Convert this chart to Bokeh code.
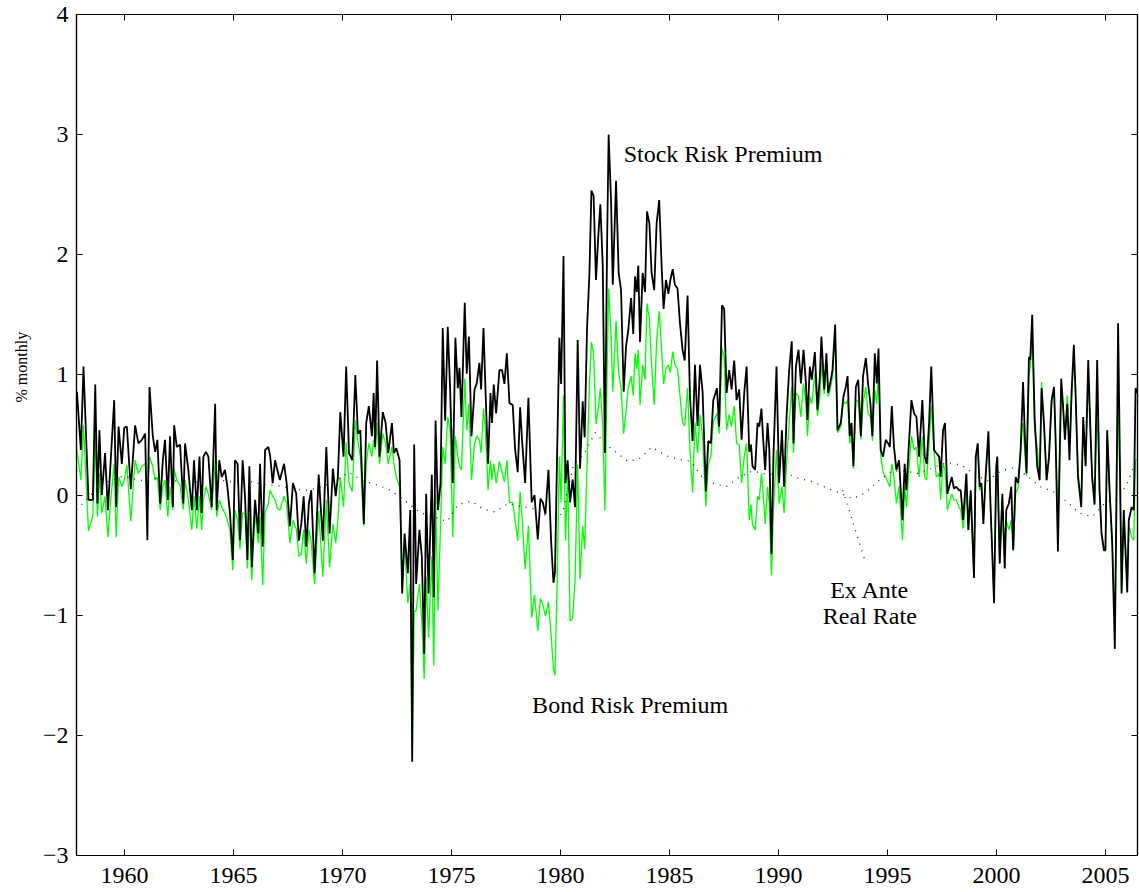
import math
from bokeh.plotting import figure
from bokeh.models import FixedTicker, LinearAxis, Label, Title
from bokeh.embed import file_html
from bokeh.resources import INLINE

# ---------------- data ----------------
x_ticks = [1960, 1965, 1970, 1975, 1980, 1985, 1990, 1995, 2000, 2005]
y_ticks = [-3, -2, -1, 0, 1, 2, 3, 4]

years_a = [1957.82, 1958.00, 1958.12, 1958.35, 1958.55, 1958.66, 1958.76, 1958.85, 1958.96, 1959.11,
           1959.24, 1959.37, 1959.53, 1959.62, 1959.73, 1959.88, 1959.99, 1960.11, 1960.29, 1960.49,
           1960.64, 1960.80, 1960.95, 1961.05, 1961.15, 1961.30, 1961.41, 1961.51, 1961.64, 1961.76,
           1961.86, 1961.99, 1962.09, 1962.22, 1962.28, 1962.40, 1962.55, 1962.70, 1962.78, 1962.93,
           1963.09, 1963.19, 1963.32, 1963.44, 1963.54, 1963.62, 1963.74, 1963.85, 1964.00, 1964.16,
           1964.23, 1964.35, 1964.46, 1964.61, 1964.72, 1964.84, 1964.97, 1965.07, 1965.19, 1965.30,
           1965.42, 1965.53, 1965.64, 1965.73, 1965.84, 1965.99, 1966.14, 1966.22, 1966.34, 1966.45,
           1966.60, 1966.68, 1966.80, 1966.91, 1967.01, 1967.13, 1967.32, 1967.44, 1967.59]
stock_a = [0.86, 0.375, 1.07, -0.04, -0.04, 0.92, -0.07, 0.54, 0.00, 0.35,
           -0.125, 0.29, 0.79, -0.10, 0.57, 0.26, 0.56, 0.57, 0.05, 0.58,
           0.43, 0.46, 0.51, -0.375, 0.90, 0.49, 0.36, 0.46, -0.07, 0.29,
           0.46, -0.04, 0.49, -0.10, 0.58, 0.40, 0.42, -0.07, 0.43, 0.21,
           -0.125, 0.29, -0.125, 0.32, -0.15, 0.32, 0.36, 0.32, -0.10, 0.76,
           -0.125, 0.29, 0.15, 0.21, 0.07, -0.15, -0.54, 0.29, 0.26, -0.375,
           0.29, -0.01, -0.54, 0.24, -0.60, -0.04, -0.32, 0.26, -0.43, 0.375,
           0.40, 0.33, 0.10, 0.29, 0.21, 0.125, 0.26, 0.10, -0.26]
bond_a = [0.375, 0.125, 0.58, -0.30, -0.17, 0.49, -0.18, 0.18, -0.15, -0.01,
          -0.35, -0.04, 0.26, -0.35, 0.15, 0.07, 0.125, 0.25, -0.22, 0.29,
          0.18, 0.24, 0.26, 0.01, 0.32, 0.24, 0.125, 0.15, -0.125, 0.07,
          0.125, -0.18, 0.07, -0.125, 0.21, 0.125, 0.08, -0.12, 0.125, -0.04,
          -0.29, -0.01, -0.28, -0.01, -0.29, -0.04, 0.07, 0.01, -0.125, 0.29,
          -0.18, -0.04, -0.10, -0.15, -0.21, -0.29, -0.625, -0.125, -0.21, -0.45,
          -0.15, -0.15, -0.61, -0.15, -0.71, -0.15, -0.40, -0.18, -0.75, -0.15,
          -0.07, 0.04, -0.01, -0.04, -0.11, -0.125, -0.01, -0.07, -0.40]

years_b = [1967.73, 1967.88, 1968.00, 1968.11, 1968.22, 1968.34, 1968.46, 1968.57, 1968.72, 1968.91,
           1969.10, 1969.26, 1969.41, 1969.56, 1969.69, 1969.79, 1969.90, 1970.05, 1970.17, 1970.30,
           1970.45, 1970.59, 1970.71, 1970.82, 1970.98, 1971.09, 1971.21, 1971.35, 1971.43, 1971.50,
           1971.59, 1971.70, 1971.85, 1971.98, 1972.10, 1972.27, 1972.36, 1972.47, 1972.62, 1972.74,
           1972.85, 1973.00, 1973.11, 1973.20, 1973.29, 1973.38, 1973.53, 1973.64, 1973.75, 1973.84,
           1973.95, 1974.10, 1974.19, 1974.27, 1974.38, 1974.50, 1974.60, 1974.71, 1974.83, 1974.94,
           1975.06, 1975.18, 1975.29, 1975.37, 1975.46, 1975.61, 1975.70, 1975.80, 1975.92, 1976.06,
           1976.16, 1976.28, 1976.36, 1976.47, 1976.56, 1976.68, 1976.79, 1976.86, 1976.94, 1977.05,
           1977.20]
stock_b = [0.10, 0.01, -0.38, -0.24, -0.01, -0.43, -0.07, 0.04, -0.65, 0.17,
           -0.38, 0.40, -0.32, 0.22, -0.01, 0.15, 0.69, 0.32, 1.07, 0.35,
           0.29, 1.00, 0.51, 0.54, -0.24, 0.60, 0.74, 0.49, 0.85, 0.40,
           1.12, 0.32, 0.69, 0.60, 0.35, 0.60, 0.35, 0.39, 0.29, -0.82,
           -0.32, -0.65, -0.125, -2.22, 0.42, -0.74, -0.29, -0.51, -1.32, 0.01,
           -0.82, 0.17, -0.85, 0.62, -0.125, 0.10, 1.39, 0.62, 1.40, 0.88,
           0.10, 1.31, 0.89, 1.06, 0.65, 1.60, 1.01, 1.32, 0.49, 0.88,
           0.93, 1.10, 0.88, 1.39, 0.88, 0.26, 0.85, 0.60, 0.92, 0.68,
           1.04]
bond_b = [-0.21, -0.28, -0.51, -0.49, -0.29, -0.57, -0.29, -0.40, -0.74, -0.13,
          -0.68, -0.04, -0.60, -0.24, -0.40, -0.21, 0.15, -0.10, 0.44, 0.10,
          0.03, 0.62, 0.45, 0.32, -0.26, 0.26, 0.43, 0.32, 0.46, 0.38,
          0.60, 0.26, 0.51, 0.43, 0.26, 0.40, 0.26, 0.15, 0.07, -0.79,
          -0.38, -0.90, -0.74, -2.15, -0.97, -0.96, -0.74, -1.04, -1.53, -0.68,
          -1.19, -0.51, -1.42, 0.0, -0.96, -0.24, 0.40, 0.26, 0.65, 0.54,
          -0.35, 0.49, 0.32, 0.24, 0.21, 0.97, 0.54, 0.76, 0.125, 0.43,
          0.49, 0.46, 0.35, 0.72, 0.54, 0.04, 0.29, 0.125, 0.26, 0.10,
          0.28]

years_c = [1977.32, 1977.43, 1977.54, 1977.66, 1977.81, 1977.92, 1978.04, 1978.15, 1978.24, 1978.38,
           1978.53, 1978.68, 1978.81, 1978.96, 1979.08, 1979.19, 1979.31, 1979.45, 1979.57, 1979.68,
           1979.75, 1979.85, 1979.95, 1980.03, 1980.14, 1980.23, 1980.33, 1980.44, 1980.56, 1980.67,
           1980.79, 1980.90, 1981.02, 1981.11, 1981.22, 1981.33, 1981.42, 1981.52, 1981.63, 1981.74,
           1981.83, 1981.94, 1982.04, 1982.14, 1982.21, 1982.32, 1982.40, 1982.55, 1982.67, 1982.78,
           1982.90, 1983.01, 1983.11, 1983.24, 1983.34, 1983.42, 1983.50, 1983.57, 1983.65, 1983.77,
           1983.88, 1983.97, 1984.08, 1984.18, 1984.30, 1984.41, 1984.53, 1984.64, 1984.73, 1984.84,
           1984.95, 1985.04, 1985.15, 1985.25, 1985.37, 1985.48, 1985.60, 1985.70, 1985.83, 1985.94,
           1986.06, 1986.17, 1986.29, 1986.40, 1986.52, 1986.67, 1986.78]
stock_c = [1.04, 0.925, 1.18, 0.765, 0.75, 0.38, 0.19, 0.73, 0.45, 0.10,
           0.81, -0.06, 0.00, -0.37, -0.03, -0.06, -0.16, 0.21, -0.38, -0.73,
           -0.64, 0.38, 1.31, 0.925, 1.99, 0.10, 0.29, -0.06, 0.13, -0.10,
           1.29, 0.22, 0.78, 0.48, 1.39, 1.85, 2.535, 2.49, 1.79, 2.17,
           2.42, 1.91, 0.35, 2.10, 3.00, 2.455, 1.75, 2.615, 1.85, 1.705,
           0.86, 1.24, 1.37, 1.64, 1.34, 1.82, 1.69, 1.91, 1.275, 1.85,
           1.69, 2.36, 2.26, 1.85, 1.705, 2.26, 2.455, 1.91, 1.55, 1.79,
           1.675, 1.79, 1.88, 1.75, 1.72, 1.435, 1.21, 1.12, 1.66, 0.83,
           0.45, 1.085, 0.575, 1.085, 0.86, 0.03, 0.45]
bond_c = [0.19, 0.11, 0.29, -0.06, -0.06, -0.21, -0.38, 0.03, -0.19, -0.62,
          -0.255, -1.02, -0.83, -1.13, -0.86, -0.91, -1.005, -0.89, -1.16, -1.45,
          -1.50, -0.70, 0.32, -0.06, 0.83, -0.38, 0.19, -1.05, -1.02, -0.70,
          0.255, -0.70, -0.255, -0.45, 0.255, 0.925, 1.275, 1.18, 0.59, 0.73,
          0.89, 0.575, -0.13, 1.05, 1.72, 1.34, 0.86, 1.45, 1.02, 0.89,
          0.51, 0.70, 0.89, 0.99, 0.83, 1.18, 1.05, 1.21, 0.75, 1.085,
          0.96, 1.595, 1.47, 1.085, 0.75, 1.275, 1.53, 1.21, 0.925, 1.05,
          1.085, 1.02, 1.195, 1.085, 1.05, 0.83, 0.605, 0.575, 0.89, 0.38,
          0.02, 0.605, 0.35, 0.67, 0.48, -0.095, 0.255]

years_d = [1986.90, 1987.01, 1987.18, 1987.28, 1987.41, 1987.51, 1987.62, 1987.74, 1987.85, 1987.97,
           1988.08, 1988.20, 1988.31, 1988.43, 1988.54, 1988.66, 1988.74, 1988.81, 1988.93, 1989.04,
           1989.12, 1989.22, 1989.30, 1989.39, 1989.50, 1989.58, 1989.68, 1989.77, 1989.91, 1990.03,
           1990.16, 1990.26, 1990.37, 1990.49, 1990.61, 1990.69, 1990.80, 1990.92, 1991.03, 1991.15,
           1991.26, 1991.33, 1991.44, 1991.53, 1991.67, 1991.79, 1991.90, 1991.97, 1992.10, 1992.20,
           1992.28, 1992.37, 1992.48, 1992.60, 1992.71, 1992.86, 1992.98, 1993.09, 1993.17, 1993.27,
           1993.35, 1993.44, 1993.55, 1993.66, 1993.78, 1993.88, 1994.01, 1994.11, 1994.22, 1994.31,
           1994.42, 1994.51, 1994.59, 1994.69, 1994.80, 1994.92, 1995.03, 1995.11, 1995.20, 1995.30,
           1995.41, 1995.53, 1995.69, 1995.79, 1995.87, 1995.96, 1996.10, 1996.22, 1996.33, 1996.45]
stock_d = [0.43, 0.79, 0.89, 0.57, 1.58, 1.55, 0.85, 1.04, 0.88, 1.12,
           0.79, 0.88, 0.46, 0.85, 1.07, 0.36, 0.42, 0.24, 0.21, 0.60,
           0.57, 0.72, 0.46, 0.21, 0.60, 0.375, -0.49, 0.32, 1.07, 0.10,
           0.54, 0.07, 0.65, 1.04, 1.28, 0.43, 1.07, 1.21, 0.93, 1.21,
           0.93, 0.625, 1.07, 0.96, 1.19, 0.71, 0.99, 1.32, 0.88, 1.18,
           0.85, 0.93, 1.04, 1.42, 0.54, 0.60, 0.82, 0.90, 0.99, 0.49,
           0.60, 0.24, 0.90, 0.96, 0.49, 0.99, 1.14, 0.93, 0.76, 0.49,
           1.18, 0.93, 1.22, 0.375, 0.32, 0.46, 0.43, 0.40, 0.74, 0.40,
           0.21, 0.29, -0.21, 0.26, 0.04, 0.35, 0.79, 0.68, 0.65, 0.32]
bond_d = [0.32, 0.61, 0.68, 0.51, 1.22, 1.15, 0.54, 0.67, 0.57, 0.74,
          0.43, 0.42, 0.10, 0.32, 0.43, -0.21, -0.08, -0.25, -0.29, -0.01,
          -0.04, 0.18, 0.01, -0.24, 0.07, -0.07, -0.67, -0.125, 0.375, -0.07,
          0.07, -0.15, 0.26, 0.60, 0.90, 0.35, 0.85, 0.82, 0.65, 0.93,
          0.76, 0.49, 0.82, 0.76, 1.01, 0.66, 0.82, 1.11, 0.84, 1.11,
          0.82, 0.875, 0.99, 1.35, 0.52, 0.57, 0.78, 0.76, 0.79, 0.43,
          0.51, 0.22, 0.78, 0.79, 0.46, 0.76, 0.90, 0.68, 0.65, 0.45,
          0.875, 0.76, 1.01, 0.33, 0.19, 0.15, 0.10, 0.07, 0.26, 0.15,
          -0.07, 0.07, -0.375, 0.07, -0.10, 0.15, 0.49, 0.375, 0.40, 0.15]

years_e = [1996.60, 1996.71, 1996.80, 1996.91, 1997.01, 1997.14, 1997.24, 1997.37, 1997.44, 1997.55,
           1997.64, 1997.75, 1997.83, 1997.95, 1998.05, 1998.16, 1998.28, 1998.36, 1998.47, 1998.62,
           1998.71, 1998.82, 1998.97, 1999.05, 1999.14, 1999.23, 1999.31, 1999.40, 1999.50, 1999.63,
           1999.73, 1999.89, 1999.99, 2000.04, 2000.15, 2000.27, 2000.38, 2000.45, 2000.57, 2000.68,
           2000.77, 2000.88, 2001.00, 2001.11, 2001.22, 2001.31, 2001.38, 2001.49, 2001.55, 2001.64,
           2001.75, 2001.87, 2001.98, 2002.07, 2002.18, 2002.30, 2002.41, 2002.53, 2002.64, 2002.71,
           2002.82, 2002.97, 2003.05, 2003.14, 2003.25, 2003.35, 2003.45, 2003.55, 2003.63, 2003.74,
           2003.89, 2003.98, 2004.09, 2004.21, 2004.32, 2004.39, 2004.50, 2004.62, 2004.73, 2004.82,
           2004.93, 2005.00, 2005.08, 2005.19, 2005.31, 2005.43, 2005.51, 2005.58, 2005.66, 2005.74,
           2005.84, 2006.00, 2006.07, 2006.20, 2006.30, 2006.38, 2006.47]
stock_e = [0.79, 0.32, 0.26, 0.60, 1.07, 0.375, 0.35, 0.32, 0.15, 0.54,
           0.60, 0.01, 0.07, 0.15, 0.055, 0.07, 0.04, 0.04, -0.21, 0.18,
           -0.29, 0.04, -0.69, 0.32, 0.43, 0.07, 0.10, -0.24, 0.15, 0.53,
           -0.10, -0.90, 0.24, 0.32, -0.57, 0.01, -0.61, -0.125, -0.07, 0.07,
           -0.46, 0.15, 0.10, 0.375, 0.94, 0.46, 0.18, 1.15, 1.125, 1.50,
           0.65, 0.24, 0.125, 0.89, 0.60, 0.125, 0.32, 0.79, 0.90, 0.49,
           -0.47, 0.97, 0.76, 0.46, 0.76, 0.29, 0.875, 1.25, 0.85, 0.15,
           -0.10, 0.65, 0.24, 1.125, 0.49, 0.15, -0.08, 1.125, 0.04, -0.32,
           -0.46, -0.46, 0.54, 0.04, -0.40, -1.28, 0.04, 1.43, 0.32, -0.82,
           -0.125, -0.81, -0.21, -0.10, -0.125, 0.89, 0.85]
bond_e = [0.49, 0.15, 0.125, 0.43, 0.74, 0.35, 0.15, 0.18, -0.04, 0.26,
          0.21, -0.125, -0.07, 0.01, -0.04, -0.04, -0.10, -0.125, -0.28, 0.03,
          -0.29, 0.01, -0.68, 0.29, 0.40, 0.04, 0.07, -0.22, 0.125, 0.49,
          -0.09, -0.875, 0.18, 0.26, -0.57, -0.01, -0.60, -0.21, -0.29, -0.21,
          -0.46, 0.01, 0.07, 0.40, 0.60, 0.32, 0.16, 0.99, 1.07, 1.32,
          0.54, 0.40, 0.12, 0.94, 0.57, 0.12, 0.29, 0.77, 0.88, 0.47,
          -0.18, 0.875, 0.74, 0.51, 0.83, 0.40, 0.82, 1.15, 0.83, 0.21,
          -0.07, 0.63, 0.26, 0.96, 0.46, 0.13, -0.07, 0.74, 0.01, -0.32,
          -0.43, -0.43, 0.51, 0.02, -0.375, -1.07, 0.15, 0.79, 0.15, -0.79,
          -0.14, -0.74, -0.24, -0.35, -0.375, 0.29, 0.29]

rr_years = [1957.80, 1958.20, 1958.70, 1959.30, 1960.00, 1960.70, 1961.40, 1962.10, 1962.80, 1963.50,
            1964.20, 1964.90, 1965.60, 1966.30, 1967.00, 1967.70, 1968.40, 1969.10, 1969.80, 1970.30,
            1970.90, 1971.50, 1972.10, 1972.60, 1973.10, 1973.60, 1974.20, 1974.80, 1975.30, 1975.90,
            1976.50, 1977.00, 1977.60, 1978.30, 1979.00, 1979.60, 1980.10, 1980.60, 1981.10, 1981.60,
            1982.10, 1982.60, 1983.10, 1983.60, 1984.20, 1984.80, 1985.40, 1986.00, 1986.50, 1987.00,
            1987.60, 1988.20, 1988.80, 1989.50, 1990.20, 1990.90, 1991.60, 1992.20, 1992.80, 1993.40,
            1994.00, 1994.60, 1995.20, 1995.80, 1996.40, 1997.00, 1997.70, 1998.40, 1999.00, 1999.60,
            2000.20, 2000.80, 2001.40, 2002.00, 2002.60, 2003.20, 2003.80, 2004.40, 2005.00, 2005.60,
            2006.00, 2006.47]
real_rate = [-0.12, -0.05, 0.05, 0.12, 0.16, 0.12, 0.14, 0.11, 0.13, 0.10,
             0.13, 0.11, 0.12, 0.09, 0.08, 0.05, 0.04, 0.07, 0.13, 0.19,
             0.12, 0.09, 0.05, -0.01, -0.08, -0.15, -0.18, -0.22, -0.08, -0.05,
             -0.12, -0.14, -0.07, -0.10, -0.12, -0.22, -0.15, 0.25, 0.35, 0.52,
             0.42, 0.35, 0.28, 0.30, 0.40, 0.33, 0.30, 0.28, 0.15, 0.10,
             0.07, 0.15, 0.20, 0.17, 0.19, 0.14, 0.11, 0.06, 0.02, -0.03,
             0.02, 0.12, 0.20, 0.20, 0.18, 0.22, 0.27, 0.25, 0.17, 0.12,
             0.20, 0.23, 0.16, 0.07, 0.03, -0.05, -0.15, -0.18, -0.06, -0.03,
             0.10, 0.32]

# annotation leader (label -> real-rate curve), data coordinates
leader_x = [1992.95, 1993.96]
leader_y = [0.04, -0.54]

years = years_a + years_b + years_c + years_d + years_e
stock = stock_a + stock_b + stock_c + stock_d + stock_e
bond = bond_a + bond_b + bond_c + bond_d + bond_e
assert len(years) == len(stock) == len(bond)
assert len(rr_years) == len(real_rate)

# ---------------- figure ----------------
FONT = "Liberation Serif"

p = figure(width=1139, height=892, x_range=(1957.8, 2006.47), y_range=(-3, 4),
           output_backend="svg", toolbar_location=None,
           min_border_left=75, min_border_right=2, min_border_top=14, min_border_bottom=37)
p.grid.visible = False
p.outline_line_color = "black"
p.outline_line_width = 1.2
p.background_fill_color = "white"
p.border_fill_color = "white"

def style_axis(ax, ticks, labels=True):
    ax.ticker = FixedTicker(ticks=ticks)
    ax.major_tick_in = 6
    ax.major_tick_out = 0
    ax.minor_tick_line_color = None
    ax.axis_line_color = "black"
    ax.axis_line_width = 1.2
    ax.major_tick_line_color = "black"
    ax.major_tick_line_width = 1
    if labels:
        ax.major_label_text_font = FONT
        ax.major_label_text_font_size = "24px"
        ax.major_label_text_color = "black"
    else:
        ax.major_label_overrides = {t: "" for t in ticks}
        ax.major_label_standoff = 0

xa = p.xaxis[0]
style_axis(xa, x_ticks)
xa.major_label_standoff = 12

ya = p.yaxis[0]
style_axis(ya, y_ticks)
ya.major_label_standoff = 8
ya.major_label_overrides = {t: ("\u2212%d" % (-t) if t < 0 else str(t)) for t in y_ticks}

top = LinearAxis()
style_axis(top, x_ticks, labels=False)
p.add_layout(top, "above")
right = LinearAxis()
style_axis(right, y_ticks, labels=False)
p.add_layout(right, "right")

# y-axis title placed as in the reference (not centred on the frame)
ytitle = Title(text="% monthly", align="left", offset=453, standoff=20,
               text_font=FONT, text_font_size="16px", text_font_style="normal",
               text_color="black")
p.add_layout(ytitle, "left")

# series
p.line(years, bond, line_color="#00ff00", line_width=1.3)
p.line(years, stock, line_color="black", line_width=1.8)
p.line(rr_years, real_rate, line_color="#222222", line_width=1.3, line_dash="1 6")
p.line(leader_x, leader_y, line_color="#222222", line_width=1.3, line_dash="1 6")

# text annotations
for txt, x, y, align in [("Stock Risk Premium", 1982.90, 2.84, "left"),
                         ("Bond Risk Premium", 1978.70, -1.75, "left"),
                         ("Ex Ante", 1994.19, -0.79, "center"),
                         ("Real Rate", 1994.19, -1.01, "center")]:
    p.add_layout(Label(x=x, y=y, text=txt, text_font=FONT, text_font_size="24px",
                       text_align=align, text_baseline="alphabetic", text_color="black"))

open("out.html", "w").write(file_html(p, INLINE))
